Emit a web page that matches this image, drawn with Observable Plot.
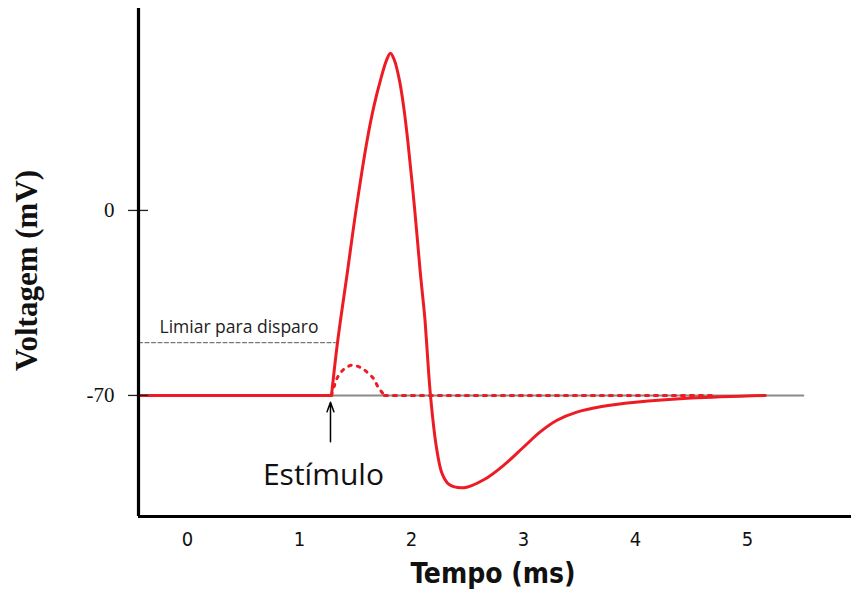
<!DOCTYPE html>
<html>
<head>
<meta charset="utf-8">
<script src="https://cdn.jsdelivr.net/npm/d3@7"></script>
<script src="https://cdn.jsdelivr.net/npm/@observablehq/plot@0.6"></script>
<style>
  html, body { margin: 0; padding: 0; background: #fff; }
  #chart svg { display: block; }
  g[aria-label="x-axis tick label"] text, g[aria-label="xtitle"] text { font-stretch: condensed; }
</style>
</head>
<body>
<div id="chart"></div>
<script>
// Domains (ms, mV)
const xDomain = [-0.4375, 5.93];
const yDomain = [-115.8, 76.4];
const xTicks = [0, 1, 2, 3, 4, 5];
const yTicks = [0, -70];

// Resting baseline before the stimulus (solid red)
const baseTime = [-0.4375, 1.286];
const baseVolt = [-70, -70];

// Action potential (solid red)
const apTime = [1.286, 1.342, 1.426, 1.509, 1.604, 1.663, 1.723, 1.777, 1.8125, 1.848, 1.893, 1.931, 1.967, 2.027, 2.080, 2.119, 2.134, 2.170, 2.223, 2.274, 2.334, 2.47, 2.65, 2.83, 3.0, 3.15, 3.30, 3.47, 3.70, 4.0, 4.5, 5.16];
const apVolt = [-70, -49.2, -23.95, 1.25, 26.5, 39.1, 49.2, 56.8, 59.5, 56.8, 49.2, 39.1, 26.5, 1.25, -23.95, -40.4, -49.2, -70, -89.6, -99.6, -103.6, -104.9, -101.8, -96.2, -89.6, -83.8, -79.4, -76.4, -74.2, -72.6, -71.0, -70];

// Subthreshold response (dotted red)
const subTime = [1.286, 1.3125, 1.339, 1.393, 1.464, 1.545, 1.607, 1.661, 1.705, 1.759];
const subVolt = [-70, -66.2, -63.2, -60.2, -58.6, -59.4, -61.3, -63.6, -67, -70];
const subFlatTime = [1.759, 4.71];
const subFlatVolt = [-70, -70];

// Resting potential line and threshold line
const restTime = [-0.4375, 5.5];
const restVolt = [-70, -70];
const thrTime = [-0.4375, 1.32];
const thrVolt = [-50, -50];

// Stimulus arrow
const stimTime = 1.277;
const stimFrom = -87.5;
const stimTo = -72.6;

// Texts
const thresholdLabel = "Limiar para disparo";
const stimulusLabel = "Estímulo";
const xLabel = "Tempo (ms)";
const yLabel = "Voltagem (mV)";

const toRows = (t, v) => t.map((d, i) => ({t: d, v: v[i]}));

const red = "#ed1c24";
const narrow = "'DejaVu Sans Condensed', 'DejaVu Sans', sans-serif";
const humanist = "'Open Sans', Lato, sans-serif";

const chart = Plot.plot({
  width: 851,
  height: 594,
  marginLeft: 138,
  marginRight: 0,
  marginTop: 8,
  marginBottom: 78,
  x: {domain: xDomain},
  y: {domain: yDomain},
  style: {background: "#fff", color: "#000"},
  marks: [
    // resting line
    Plot.line(toRows(restTime, restVolt), {x: "t", y: "v", stroke: "#8a8a8a", strokeWidth: 2}),
    // threshold line
    Plot.line(toRows(thrTime, thrVolt), {x: "t", y: "v", stroke: "#777", strokeWidth: 1.3, strokeDasharray: "4,2.5"}),
    Plot.text([thresholdLabel], {x: -0.25, y: -46.2, text: d => d, textAnchor: "start", lineAnchor: "bottom",
      fontFamily: humanist, fontSize: 17.5, fill: "#222"}),
    // subthreshold dotted
    Plot.line(toRows(subTime, subVolt), {x: "t", y: "v", curve: "catmull-rom", stroke: red, strokeWidth: 3,
      strokeDasharray: "2.6,6.2"}),
    Plot.line(toRows(subFlatTime, subFlatVolt), {x: "t", y: "v", stroke: red, strokeWidth: 3,
      strokeDasharray: "3,6"}),
    // baseline + action potential
    Plot.line(toRows(baseTime, baseVolt), {x: "t", y: "v", stroke: red, strokeWidth: 3}),
    Plot.line(toRows(apTime, apVolt), {x: "t", y: "v", curve: "catmull-rom", stroke: red, strokeWidth: 3, strokeLinejoin: "round"}),
    // stimulus arrow
    Plot.arrow([{x1: stimTime, y1: stimFrom, x2: stimTime, y2: stimTo}], {x1: "x1", y1: "y1", x2: "x2", y2: "y2",
      stroke: "#000", strokeWidth: 1.5, headLength: 10, headAngle: 40}),
    Plot.text([stimulusLabel], {x: 1.214, y: -103.7, text: d => d, textAnchor: "middle", lineAnchor: "bottom",
      fontFamily: humanist, fontSize: 30, fill: "#111"}),
    // axes
    Plot.axisY({ticks: yTicks, tickSize: 20, dx: 10, tickPadding: 14, tickFormat: d => String(d),
      fontFamily: "'Liberation Serif', serif", fontSize: 21, stroke: "#222", strokeWidth: 1.3, fill: "#111"}),
    Plot.axisX({ticks: xTicks, tickSize: 0, tickPadding: 15, tickFormat: d => String(d),
      fontFamily: narrow, fontSize: 20, fill: "#111"}),
    Plot.ruleX([xDomain[0]], {stroke: "#000", strokeWidth: 3.2}),
    Plot.ruleY([yDomain[0]], {stroke: "#000", strokeWidth: 3.2}),
    // axis titles
    Plot.text([yLabel], {frameAnchor: "left", textAnchor: "middle", rotate: -90, dx: -111, dy: 8, text: d => d,
      fontFamily: "'Liberation Serif', serif", fontWeight: "bold", fontSize: 31, fill: "#111"}),
    Plot.text([xLabel], {frameAnchor: "bottom", dx: -2, dy: 66, text: d => d, ariaLabel: "xtitle",
      fontFamily: narrow, fontWeight: "bold", fontSize: 28, fill: "#111"})
  ]
});
document.getElementById("chart").append(chart);
</script>
</body>
</html>
